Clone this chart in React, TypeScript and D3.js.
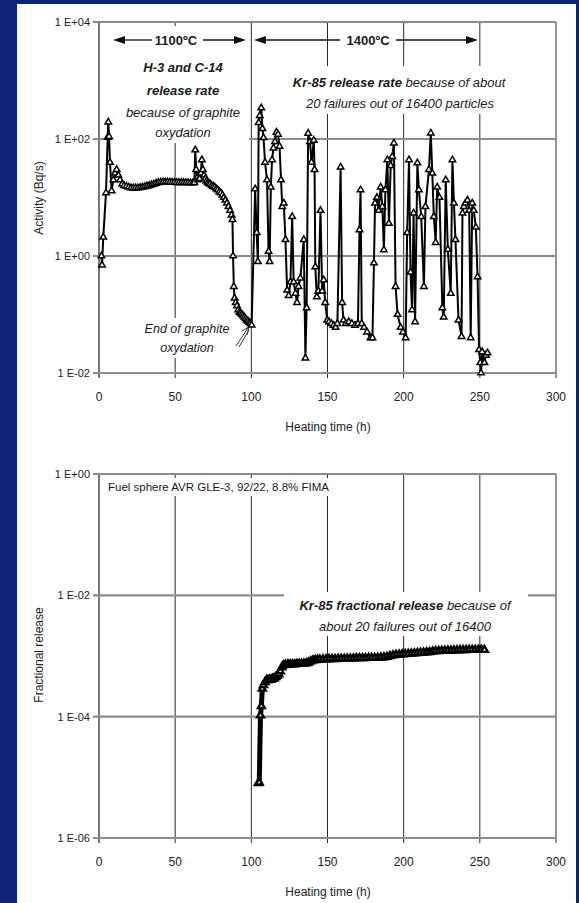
import React from 'react';
import { scaleLinear, scaleLog, line, symbol, symbolTriangle } from 'd3';

const hourTicks = [0, 50, 100, 150, 200, 250, 300];
const activityTicks = [1e-2, 1, 1e2, 1e4];
const activityLabels = ['1 E-02', '1 E+00', '1 E+02', '1 E+04'];
const fractionTicks = [1e-6, 1e-4, 1e-2, 1];
const fractionLabels = ['1 E-06', '1 E-04', '1 E-02', '1 E+00'];

// H-3 / C-14 release rate at 1100°C  [hours, Bq/s]
const graphiteRate: [number, number][] = [
  [1.6, 1.0], [2.0, 0.7], [2.8, 2.1], [4.6, 12], [5.7, 107], [6.1, 195], [6.6, 110], [7.2, 40],
  [8.3, 13], [9.4, 20], [10.5, 26], [11.6, 30], [12.7, 24], [13.8, 20],
  [15.2, 17], [16.5, 16], [18, 15.5], [19.5, 15], [21, 14.6], [22.5, 14.5], [24, 14.5], [25.5, 14.6],
  [27, 14.8], [28.5, 15], [30, 15.3], [31.5, 15.7], [33, 16], [34.5, 16.5], [36, 17], [37.5, 17.5],
  [39, 18], [40.5, 18.2], [42, 18.4], [43.5, 18.4], [45, 18.4], [46.5, 18.3], [48, 18.2], [49.5, 18.1],
  [51, 18], [52.5, 18], [54, 18], [55.5, 18], [57, 17.9], [58.5, 17.9], [60, 17.8], [61.5, 17.8],
  [62.6, 18], [63.2, 65], [63.8, 30], [64.5, 22], [65.2, 20], [66, 21], [66.8, 26], [67.5, 44],
  [68.2, 30], [69, 24], [69.8, 21], [70.6, 19], [71.4, 18], [72.2, 17.5], [73, 17], [74, 16],
  [75, 15.5], [76, 15], [77, 14], [78, 13.5], [79, 12.5], [80, 12], [81, 11], [82, 10], [83, 9],
  [84, 8], [85, 7], [86, 6], [87, 5], [87.6, 4.2], [88, 1.0], [88.5, 0.3], [89, 0.19], [89.8, 0.16],
  [90.6, 0.14], [91.4, 0.12], [92.2, 0.11], [93, 0.105], [93.8, 0.1], [94.6, 0.095], [95.4, 0.09],
  [96.2, 0.085], [97, 0.08], [97.8, 0.077], [98.6, 0.073], [99.4, 0.07], [100.2, 0.066],
];

// Kr-85 release rate at 1400°C  [hours, Bq/s]
const kryptonRate: [number, number][] = [
  [102.5, 14], [103.5, 2.5], [104.3, 0.8], [104.8, 190], [105.5, 250], [106.5, 340], [107.3, 150],
  [108, 105], [109, 40], [110.3, 20], [111.3, 1.2], [112, 0.8], [112.8, 15], [113.6, 44], [114.5, 70],
  [115.5, 90], [116.5, 130], [117.5, 120], [118.5, 75], [119.5, 20], [120.3, 7], [121.3, 8],
  [122.4, 1.9], [123.5, 0.26], [124.5, 0.21], [125.7, 0.36], [126.8, 4.7], [127.8, 0.36], [129, 0.23],
  [130, 0.16], [131, 0.3], [132.2, 0.42], [134.4, 1.9], [135.5, 0.018], [136.3, 0.13], [137.3, 125],
  [138.5, 90], [139.5, 40], [141, 95], [141.5, 30], [142, 0.65], [143, 0.2], [144, 0.25], [145.4, 6],
  [146.5, 0.25], [147.5, 0.39], [148.5, 0.16], [149.8, 0.08], [151, 0.075], [152.5, 0.07], [154, 0.065],
  [155.3, 0.06], [156.5, 0.07], [158.6, 33], [159.6, 0.16], [160.5, 0.08], [162, 0.07], [164, 0.075],
  [166, 0.07], [168, 0.065], [170, 0.07], [171, 2.8], [171.7, 13.5], [172.5, 0.07], [174, 0.06],
  [176, 0.05], [178.3, 0.04], [179.5, 0.04], [180.5, 0.76], [181.2, 8], [182.5, 10], [183.5, 6],
  [184.9, 15], [186, 7], [187, 1.27], [188, 13.5], [189.3, 44], [190.3, 3.6], [191.5, 35], [192.5, 50],
  [193.6, 85], [194.7, 0.3], [196, 0.1], [198, 0.06], [199.5, 0.05], [201.3, 0.04], [202.3, 2.5],
  [203.5, 44], [204.5, 0.53], [205.5, 0.12], [206.5, 5.4], [207.5, 0.075], [209, 39], [210, 13.5],
  [211.5, 4.7], [213.3, 0.3], [214.3, 7], [216.6, 30], [217.8, 126], [218.8, 26], [219.8, 4.7],
  [221, 1.7], [222, 15], [223.5, 10], [225.4, 0.13], [226.3, 0.09], [227.6, 20], [229, 1.3],
  [230.9, 0.23], [232, 44], [233, 8], [234, 1.9], [236, 0.08], [238, 0.042], [238.6, 5.4], [239.5, 7],
  [240.5, 8], [241.9, 9], [243, 6], [244, 0.04], [245, 8], [246, 6], [247.4, 3.1], [248.5, 0.44],
  [249.5, 0.025], [250.3, 0.015], [250.8, 0.01], [251.5, 0.023], [253, 0.015], [254, 0.02], [255, 0.022],
];

// Kr-85 fractional release  [hours, fraction]
const kryptonFraction: [number, number][] = [
  [104.5, 8.0e-6], [105.2, 8.2e-6], [106, 1.05e-4], [106.6, 1.5e-4], [107.2, 2.9e-4], [108, 3.3e-4],
  [109, 3.7e-4], [110, 4.0e-4], [111, 4.0e-4], [112, 4.1e-4], [113, 4.1e-4], [114, 4.2e-4], [115, 4.3e-4],
  [116, 4.5e-4], [117, 4.7e-4], [118, 5.0e-4], [119, 5.6e-4], [120, 6.5e-4], [121, 7.0e-4],
  [122.5, 7.2e-4], [124, 7.3e-4], [125.5, 7.3e-4], [127, 7.3e-4], [128.5, 7.3e-4], [130, 7.4e-4],
  [131.5, 7.4e-4], [133, 7.4e-4], [134.5, 7.5e-4], [136, 7.6e-4], [137.5, 7.8e-4], [139, 8.2e-4],
  [140.5, 8.5e-4], [142, 8.6e-4], [143.5, 8.7e-4], [145, 8.7e-4], [147, 8.8e-4], [149, 8.8e-4],
  [151, 8.9e-4], [153, 8.9e-4], [155, 8.9e-4], [157, 9.0e-4], [159, 9.0e-4], [161, 9.0e-4], [163, 9.1e-4],
  [165, 9.1e-4], [167, 9.1e-4], [169, 9.2e-4], [171, 9.2e-4], [173, 9.2e-4], [175, 9.2e-4], [177, 9.3e-4],
  [179, 9.3e-4], [181, 9.3e-4], [183, 9.3e-4], [185, 9.4e-4], [187, 9.5e-4], [189, 9.7e-4], [191, 1.0e-3],
  [193, 1.03e-3], [195, 1.05e-3], [197, 1.06e-3], [199, 1.07e-3], [201, 1.08e-3], [203, 1.09e-3],
  [205, 1.1e-3], [207, 1.11e-3], [209, 1.12e-3], [211, 1.13e-3], [213, 1.14e-3], [215, 1.15e-3],
  [217, 1.16e-3], [219, 1.18e-3], [221, 1.2e-3], [223, 1.21e-3], [225, 1.22e-3], [227, 1.22e-3],
  [229, 1.23e-3], [231, 1.23e-3], [233, 1.24e-3], [235, 1.24e-3], [237, 1.25e-3], [239, 1.25e-3],
  [241, 1.25e-3], [243, 1.26e-3], [245, 1.26e-3], [247, 1.26e-3], [249, 1.27e-3], [251, 1.27e-3],
  [253, 1.26e-3],
];

const FONT = "'Liberation Sans', Arial, sans-serif";
const GRID_H = '#8c8c8c';
const GRID_V = '#2a2a2a';

interface PanelProps {
  top: number;
  bottom: number;
  yDomain: [number, number];
  yTicks: number[];
  yLabels: string[];
  yTitle: string;
  yTitleCenter: number;
  series: [number, number][];
  markerSize: number;
  markerStroke: number;
  lineWidth: number;
  children?: React.ReactNode;
}

const Panel: React.FC<PanelProps> = ({
  top, bottom, yDomain, yTicks, yLabels, yTitle, yTitleCenter, series, markerSize, markerStroke, lineWidth, children,
}) => {
  const x = scaleLinear().domain([0, 300]).range([99, 556]);
  const y = scaleLog().domain(yDomain).range([bottom, top]);
  const path = line<[number, number]>().x(d => x(d[0])).y(d => y(d[1]))(series) || '';
  const tri = symbol().type(symbolTriangle).size(markerSize)() || '';

  return (
    <g fontFamily={FONT}>
      {/* vertical grid */}
      {hourTicks.map(t => (
        <line key={'v' + t} x1={x(t)} x2={x(t)} y1={top} y2={bottom + 5}
          stroke={GRID_V} strokeWidth={t === 0 ? 1.3 : 1} />
      ))}
      {/* horizontal grid */}
      {yTicks.map(v => (
        <line key={'h' + v} x1={x(0) - 6} x2={x(300)} y1={y(v)} y2={y(v)}
          stroke={GRID_H} strokeWidth={2.2} />
      ))}
      {yTicks.map((v, i) => (
        <text key={'yl' + v} x={x(0) - 9} y={y(v)} dy="0.35em" textAnchor="end"
          fontSize={11} fill="#222">{yLabels[i]}</text>
      ))}
      {hourTicks.map(t => (
        <text key={'xl' + t} x={x(t)} y={bottom + 28} textAnchor="middle"
          fontSize={12} fill="#222">{t}</text>
      ))}
      <text x={328} y={bottom + 58} textAnchor="middle" fontSize={12} fill="#222">Heating time (h)</text>
      <text transform={`translate(43,${yTitleCenter}) rotate(-90)`} textAnchor="middle"
        fontSize={12} fill="#222">{yTitle}</text>
      {children}
      <path d={path} fill="none" stroke="#000" strokeWidth={lineWidth} strokeLinejoin="round" />
      {series.map((d, i) => (
        <path key={'m' + i} d={tri} transform={`translate(${x(d[0])},${y(d[1])})`}
          fill="#fff" stroke="#000" strokeWidth={markerStroke} />
      ))}
    </g>
  );
};

const ArrowHead: React.FC<{ tipX: number; y: number; dir: number }> = ({ tipX, y, dir }) => (
  <path d={`M${tipX},${y}L${tipX - dir * 12},${y - 4}L${tipX - dir * 12},${y + 4}Z`} fill="#111" />
);

export default function App() {
  const topSeries = [...graphiteRate, ...kryptonRate];
  return (
    <svg width={579} height={903} style={{ position: 'absolute', left: 0, top: 0 }}>
      <rect width={579} height={903} fill="#0c2378" />
      <rect x={17} y={4} width={559} height={899} fill="#fff" />

      <Panel top={22} bottom={373} yDomain={[1e-2, 1e4]} yTicks={activityTicks} yLabels={activityLabels}
        yTitle="Activity (Bq/s)" yTitleCenter={198} series={topSeries} markerSize={18} markerStroke={1.5} lineWidth={2}>
        <g fontFamily={FONT} fill="#1a1a1a">
          <rect x={113} y={26} width={136} height={117} fill="#fff" />
          <rect x={286} y={66} width={228} height={48} fill="#fff" />
          <rect x={144} y={318} width={90} height={40} fill="#fff" />
          {/* temperature arrows */}
          <line x1={122} x2={152} y1={40} y2={40} stroke="#111" strokeWidth={1.3} />
          <ArrowHead tipX={113} y={40} dir={-1} />
          <line x1={203} x2={236} y1={40} y2={40} stroke="#111" strokeWidth={1.3} />
          <ArrowHead tipX={246} y={40} dir={1} />
          <text x={176} y={45} textAnchor="middle" fontSize={13} fontWeight="bold">1100ºC</text>
          <line x1={263} x2={340} y1={40} y2={40} stroke="#111" strokeWidth={1.3} />
          <ArrowHead tipX={254} y={40} dir={-1} />
          <line x1={396} x2={468} y1={40} y2={40} stroke="#111" strokeWidth={1.3} />
          <ArrowHead tipX={478} y={40} dir={1} />
          <text x={368} y={45} textAnchor="middle" fontSize={13} fontWeight="bold">1400ºC</text>
          {/* annotations */}
          <text x={183} y={72} textAnchor="middle" fontSize={13} fontWeight="bold" fontStyle="italic">H-3 and C-14</text>
          <text x={183} y={95} textAnchor="middle" fontSize={13} fontWeight="bold" fontStyle="italic">release rate</text>
          <text x={183} y={117} textAnchor="middle" fontSize={13} fontStyle="italic">because of graphite</text>
          <text x={183} y={137} textAnchor="middle" fontSize={13} fontStyle="italic">oxydation</text>
          <text x={399} y={87} textAnchor="middle" fontSize={13} fontStyle="italic">
            <tspan fontWeight="bold">Kr-85 release rate</tspan>
            <tspan>{'  because of about'}</tspan>
          </text>
          <text x={400} y={108} textAnchor="middle" fontSize={13} fontStyle="italic">20 failures out of 16400 particles</text>
          <text x={187} y={333} textAnchor="middle" fontSize={12.5} fontStyle="italic">End of graphite</text>
          <text x={187} y={352} textAnchor="middle" fontSize={12.5} fontStyle="italic">oxydation</text>
          <line x1={236} y1={346} x2={248} y2={328} stroke="#333" strokeWidth={1} />
          <line x1={239} y1={347} x2={249} y2={330} stroke="#333" strokeWidth={1} />
          <path d="M249,327L242,331M249,327L247,335" stroke="#333" strokeWidth={1} fill="none" />
        </g>
      </Panel>

      <Panel top={474} bottom={838} yDomain={[1e-6, 1]} yTicks={fractionTicks} yLabels={fractionLabels}
        yTitle="Fractional release" yTitleCenter={655} series={kryptonFraction} markerSize={20} markerStroke={2.4} lineWidth={5}>
        <g fontFamily={FONT} fill="#1a1a1a">
          <rect x={104} y={478} width={244} height={18} fill="#fff" />
          <rect x={284} y={592} width={244} height={44} fill="#fff" />
          <text x={108} y={491} fontSize={11.5}>Fuel sphere AVR GLE-3, 92/22, 8.8% FIMA</text>
          <text x={405} y={610} textAnchor="middle" fontSize={13} fontStyle="italic">
            <tspan fontWeight="bold">Kr-85 fractional release</tspan>
            <tspan>{' because of'}</tspan>
          </text>
          <text x={405} y={631} textAnchor="middle" fontSize={13} fontStyle="italic">about 20 failures out of 16400</text>
        </g>
      </Panel>
    </svg>
  );
}
